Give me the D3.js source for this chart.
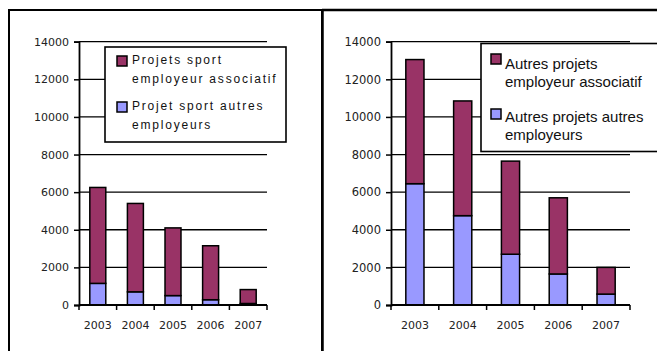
<!DOCTYPE html>
<html><head><meta charset="utf-8">
<script src="https://cdn.jsdelivr.net/npm/d3@7"></script>
<style>body{margin:0;background:#fff}svg{display:block}</style>
</head><body>
<script>
const years = ["2003","2004","2005","2006","2007"];
const sportAssoc = [5100, 4700, 3600, 2870, 740];
const sportAutres = [1150, 700, 500, 280, 80];
const autresAssoc = [6600, 6100, 4950, 4050, 1420];
const autresAutres = [6450, 4750, 2700, 1650, 580];
const yTicks = [0,2000,4000,6000,8000,10000,12000,14000];
const legendLeft = [["Projets sport","employeur associatif"],["Projet sport autres","employeurs"]];
const legendRight = [["Autres projets","employeur associatif"],["Autres projets autres","employeurs"]];

const colAssoc = "#993366", colAutres = "#9999FF";
const W = 657, H = 351;
const svg = d3.select("body").append("svg").attr("width", W).attr("height", H);

// panel frames
svg.append("rect").attr("x",9).attr("y",10).attr("width",313).attr("height",360)
  .attr("fill","none").attr("stroke","#000").attr("stroke-width",2);
svg.append("path").attr("d","M322.5,10 V360 M322,10 H660").attr("stroke","#000").attr("stroke-width",2.5).attr("fill","none");

function chart(o){
  const y = d3.scaleLinear().domain([0,14000]).range([305,41.7]);
  const x = d3.scaleBand().domain(years).range([o.x0,o.x1]).paddingInner(o.pad).paddingOuter(o.pad/2);
  const g = svg.append("g");
  // gridlines
  g.selectAll("line.grid").data(yTicks.filter(d=>d>0)).join("line")
    .attr("x1",o.x0).attr("x2",o.x1).attr("y1",d=>y(d)).attr("y2",d=>y(d))
    .attr("stroke","#000").attr("stroke-width",1.3);
  // y axis
  const ya = g.append("g").attr("transform",`translate(${o.x0},0)`)
    .call(d3.axisLeft(y).tickValues(yTicks).tickSize(5).tickPadding(5).tickFormat(d3.format("d")));
  ya.select(".domain").attr("stroke-width",1.8);
  ya.selectAll(".tick line").attr("stroke-width",1.5);
  ya.selectAll("text").attr("font-family","DejaVu Sans").attr("font-size",o.yfs).attr("fill","#222");
  // bars
  const data = years.map((yr,i)=>({year:yr, autres:o.bottom[i], assoc:o.top[i]}));
  const stack = d3.stack().keys(["autres","assoc"])(data);
  const cols = {autres:colAutres, assoc:colAssoc};
  stack.forEach(s=>{
    g.selectAll(null).data(s).join("rect")
      .attr("x",d=>x(d.data.year)).attr("width",x.bandwidth())
      .attr("y",d=>y(d[1])).attr("height",d=>y(d[0])-y(d[1]))
      .attr("fill",cols[s.key]).attr("stroke","#000").attr("stroke-width",1.5);
  });
  // x axis
  const xa = g.append("g").attr("transform","translate(0,305)")
    .call(d3.axisBottom(x).tickSize(0).tickPadding(16));
  xa.select(".domain").remove();
  g.append("line").attr("x1",o.x0).attr("x2",o.x1).attr("y1",305).attr("y2",305).attr("stroke","#000").attr("stroke-width",1.8);
  const bounds = years.map(d=>x(d)-x.step()*x.paddingInner()/2).concat([o.x1]);
  g.selectAll("line.xt").data(bounds).join("line")
    .attr("x1",d=>d).attr("x2",d=>d).attr("y1",305).attr("y2",310).attr("stroke","#000").attr("stroke-width",1.5);
  xa.selectAll("text").attr("font-family","DejaVu Sans").attr("font-size",11).attr("fill","#222");
  // legend
  const L = o.legend;
  g.append("rect").attr("x",L.x).attr("y",L.y).attr("width",L.w).attr("height",L.h)
    .attr("fill","#fff").attr("stroke","#000").attr("stroke-width",1.6);
  o.labels.forEach((lab,i)=>{
    const sy = L.sw[i];
    g.append("rect").attr("x",L.sx).attr("y",sy).attr("width",10).attr("height",10)
      .attr("fill",i===0?colAssoc:colAutres).attr("stroke","#000").attr("stroke-width",1.5);
    lab.forEach((t,j)=>{
      g.append("text").attr("x",L.tx).attr("y",L.base[i][j]).text(t)
        .attr("font-family","Liberation Sans, Arial").attr("font-size",L.fs)
        .attr("letter-spacing",L.ls).attr("fill","#111");
    });
  });
}

chart({x0:79, x1:267, pad:0.575, top:sportAssoc, bottom:sportAutres, labels:legendLeft, yfs:11,
  legend:{x:105,y:47,w:181,h:95,sx:117,sw:[56,102],tx:132,base:[[64,83],[110,129]],fs:12,ls:1.8}});
chart({x0:391, x1:630, pad:0.62, top:autresAssoc, bottom:autresAutres, labels:legendRight, yfs:11.5,
  legend:{x:481,y:43.5,w:180,h:108,sx:491,sw:[54,109],tx:505,base:[[69,87],[122,140]],fs:15,ls:0}});
</script>
</body></html>
